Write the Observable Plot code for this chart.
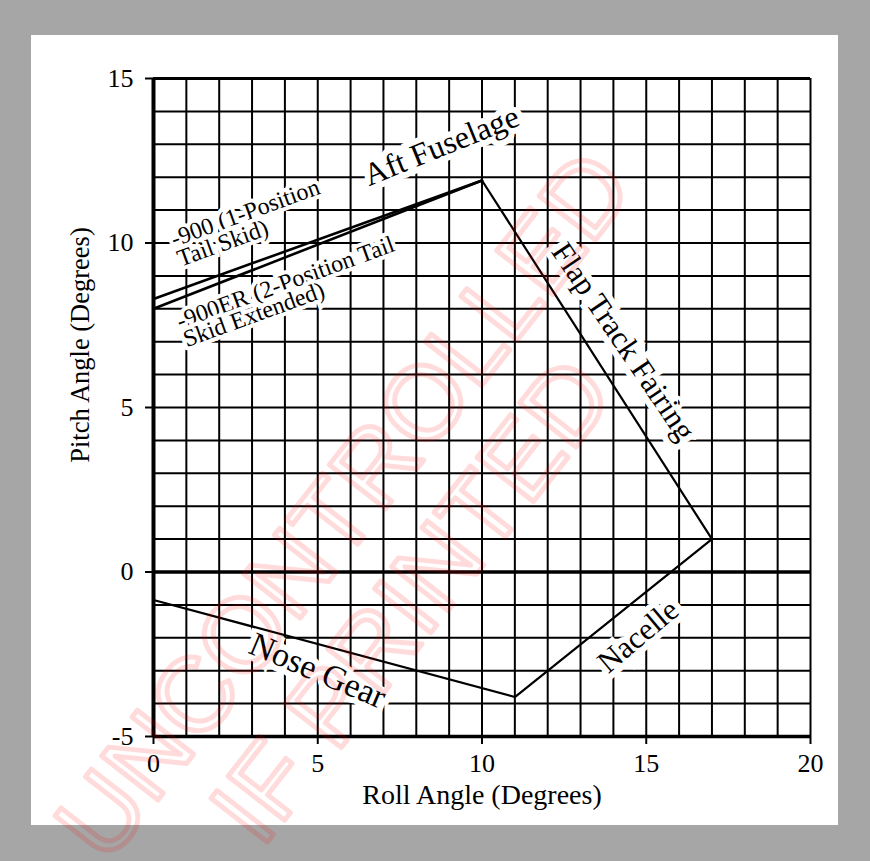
<!DOCTYPE html>
<html>
<head>
<meta charset="utf-8">
<script src="https://cdn.jsdelivr.net/npm/d3@7"></script>
<script src="https://cdn.jsdelivr.net/npm/@observablehq/plot@0.6"></script>
<style>
  html, body { margin: 0; padding: 0; width: 870px; height: 861px; overflow: hidden; background: #a6a6a6; }
  #paper { position: absolute; left: 31px; top: 35px; width: 807px; height: 790px; background: #ffffff; }
  #chart { position: absolute; left: 0; top: 0; }
</style>
</head>
<body>
<div id="paper"></div>
<div id="chart"></div>
<script>
// ---- data (degrees) ----
const xTicks = [0, 5, 10, 15, 20];
const yTicks = [-5, 0, 5, 10, 15];
const gridX = d3.range(0, 21);
const gridY = d3.range(-5, 16);

// -900 (1-position tail skid) and -900ER (2-position tail skid extended)
const tailX = [0, 10];
const tail900Y = [8.3, 11.9];
const tail900ERY = [8.0, 11.9];

// Flap track fairing -> Nacelle -> Nose gear envelope
const envX = [10, 17, 11, 0];
const envY = [11.9, 1.0, -3.8, -0.85];

// large labels
const bigLabels = [
  {text: "Aft Fuselage", x: 8.76, y: 12.95, rotate: -22, size: 32},
  {text: "Flap Track Fairing", x: 14.3, y: 7.0, rotate: 56, size: 31},
  {text: "Nacelle", x: 14.75, y: -1.95, rotate: -40, size: 31},
  {text: "Nose Gear", x: 5.0, y: -3.0, rotate: 23, size: 34}
];
// small labels (left aligned)
const smallLabels = [
  {text: "-900 (1-Position", x: 0.55, y: 10.1, rotate: -20},
  {text: "Tail Skid)", x: 0.75, y: 9.5, rotate: -20},
  {text: "-900ER (2-Position Tail", x: 0.73, y: 7.6, rotate: -20},
  {text: "Skid Extended)", x: 0.93, y: 7.05, rotate: -20}
];
const xTitle = [{text: "Roll Angle (Degrees)", x: 10, y: -5}];
const yTitle = [{text: "Pitch Angle (Degrees)", x: 0, y: 6.9}];
const watermark = [
  {text: "UNCONTROLLED", x: 5.84, y: 2.0},
  {text: "IF PRINTED", x: 7.9, y: -0.9}
];

const serif = "'Liberation Serif', 'Times New Roman', serif";

const chart = Plot.plot({
  width: 870,
  height: 861,
  marginLeft: 153,
  marginRight: 60,
  marginTop: 78,
  marginBottom: 125,
  x: {domain: [0, 20]},
  y: {domain: [-5, 15]},
  style: {background: "transparent", fontFamily: serif, fontSize: "26px", color: "black", overflow: "visible"},
  marks: [
    Plot.ruleX(gridX, {stroke: "black", strokeWidth: 2}),
    Plot.ruleY(gridY, {stroke: "black", strokeWidth: 2}),
    Plot.ruleY([15], {stroke: "black", strokeWidth: 2.8}),
    Plot.ruleY([0, -5], {stroke: "black", strokeWidth: 3.5}),
    Plot.ruleX([0], {stroke: "black", strokeWidth: 4}),
    Plot.text(bigLabels, {x: "x", y: "y", text: "text", rotate: "rotate", fontSize: "size", fontFamily: serif,
      fill: "black", stroke: "white", strokeWidth: 12, strokeLinejoin: "miter", paintOrder: "stroke", lineAnchor: "middle"}),
    Plot.text(smallLabels, {x: "x", y: "y", text: "text", rotate: "rotate", fontSize: 24, fontFamily: serif,
      textAnchor: "start", fill: "black", stroke: "white", strokeWidth: 8, strokeLinejoin: "miter", paintOrder: "stroke", lineAnchor: "middle"}),
    Plot.line(tailX.map((x, i) => ({x, y: tail900Y[i]})), {x: "x", y: "y", stroke: "black", strokeWidth: 2.6}),
    Plot.line(tailX.map((x, i) => ({x, y: tail900ERY[i]})), {x: "x", y: "y", stroke: "black", strokeWidth: 2.6}),
    Plot.line(envX.map((x, i) => ({x, y: envY[i]})), {x: "x", y: "y", stroke: "black", strokeWidth: 2.2}),
    Plot.axisX({ticks: xTicks, tickSize: 8, tickPadding: 9, tickFormat: d => String(d), label: null, fontSize: 26, strokeWidth: 2}),
    Plot.axisY({ticks: yTicks, tickSize: 8, tickPadding: 12, tickFormat: d => String(d), label: null, fontSize: 26, strokeWidth: 2}),
    Plot.text(xTitle, {x: "x", y: "y", text: "text", dy: 59, fontSize: 28, fontFamily: serif, fill: "black"}),
    Plot.text(yTitle, {x: "x", y: "y", text: "text", dx: -73, rotate: -90, fontSize: 26.5, fontFamily: serif, fill: "black"}),
    Plot.text(watermark, {x: "x", y: "y", text: "text", rotate: -52, fontSize: 104,
      fontFamily: "'Liberation Sans', Arial, sans-serif", fill: "none", stroke: "red", strokeOpacity: 0.14, strokeWidth: 5, lineAnchor: "middle"})
  ]
});
document.getElementById("chart").appendChild(chart);
</script>
</body>
</html>
